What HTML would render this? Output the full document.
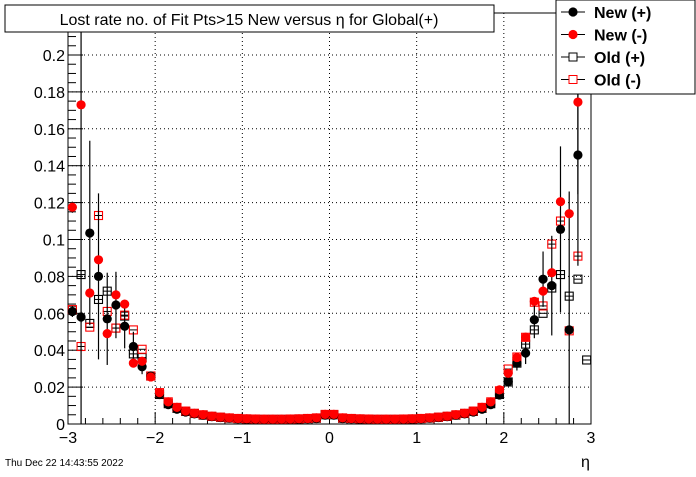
<!DOCTYPE html>
<html><head><meta charset="utf-8"><style>
body{margin:0;background:#fff;font-family:"Liberation Sans",sans-serif;}
svg text{font-family:"Liberation Sans",sans-serif;}
</style></head><body>
<svg id="c" width="696" height="472" viewBox="0 0 696 472" xmlns="http://www.w3.org/2000/svg">
<rect width="696" height="472" fill="#fff"/>
<g id="grid"></g>
<g id="axes"></g>
<g id="marks"></g>
<rect x="5" y="5" width="489" height="27" fill="#fff" stroke="#000"/>
<text x="249" y="25" font-size="16" text-anchor="middle">Lost rate no. of Fit Pts&gt;15 New versus  η for Global(+)</text>
<text x="5" y="466" font-size="10">Thu Dec 22 14:43:55 2022</text>
<text x="581" y="467" font-size="16">η</text>
<g id="legend"></g>
</svg>
<script>
const binCenters=[-2.95,-2.85,-2.75,-2.65,-2.55,-2.45,-2.35,-2.25,-2.15,-2.05,-1.95,-1.85,-1.75,-1.65,-1.55,-1.45,-1.35,-1.25,-1.15,-1.05,-0.95,-0.85,-0.75,-0.65,-0.55,-0.45,-0.35,-0.25,-0.15,-0.05,0.05,0.15,0.25,0.35,0.45,0.55,0.65,0.75,0.85,0.95,1.05,1.15,1.25,1.35,1.45,1.55,1.65,1.75,1.85,1.95,2.05,2.15,2.25,2.35,2.45,2.55,2.65,2.75,2.85,2.95];
const newPos=[0.061,0.058,0.1035,0.080,0.057,0.0645,0.053,0.042,0.031,0.026,0.016,0.0105,0.008,0.0065,0.0055,0.0047,0.004,0.0035,0.0031,0.0028,0.0026,0.0025,0.0024,0.0024,0.0024,0.0025,0.0026,0.0028,0.003,0.0048,0.0048,0.003,0.0028,0.0026,0.0025,0.0024,0.0024,0.0024,0.0025,0.0026,0.0028,0.0031,0.0035,0.004,0.0047,0.0055,0.0065,0.008,0.0105,0.0157,0.023,0.033,0.0385,0.0565,0.0785,0.075,0.1055,0.051,0.1458,null];
const newNeg=[0.1175,0.173,0.071,0.089,0.049,0.070,0.065,0.033,0.034,0.0255,0.017,0.012,0.009,0.007,0.0058,0.005,0.0042,0.0037,0.0033,0.003,0.0028,0.0027,0.0026,0.0026,0.0026,0.0027,0.0028,0.003,0.0033,0.0052,0.0052,0.0033,0.003,0.0028,0.0027,0.0026,0.0026,0.0026,0.0027,0.0028,0.003,0.0033,0.0037,0.0042,0.005,0.0058,0.007,0.009,0.012,0.0185,0.0275,0.036,0.047,0.0665,0.072,0.082,0.1205,0.114,0.1745,null];
const oldPos=[0.0617,0.081,0.0545,0.0675,0.072,0.052,0.0585,0.038,0.036,0.026,0.016,0.011,0.0085,0.0068,0.0057,0.0048,0.0041,0.0036,0.0032,0.0029,0.0027,0.0026,0.0025,0.0025,0.0025,0.0026,0.0027,0.0029,0.0031,0.005,0.005,0.0031,0.0029,0.0027,0.0026,0.0025,0.0025,0.0025,0.0026,0.0027,0.0029,0.0032,0.0036,0.0041,0.0048,0.0057,0.0068,0.0085,0.011,0.016,0.0228,0.033,0.0433,0.051,0.060,0.0737,0.081,0.0693,0.0785,0.0347];
const oldNeg=[0.062,0.042,0.0525,0.113,0.061,0.052,0.059,0.051,0.0405,0.026,0.017,0.012,0.009,0.007,0.0058,0.005,0.0042,0.0037,0.0033,0.003,0.0028,0.0027,0.0026,0.0026,0.0026,0.0027,0.0028,0.003,0.0033,0.0052,0.0052,0.0033,0.003,0.0028,0.0027,0.0026,0.0026,0.0026,0.0027,0.0028,0.003,0.0033,0.0037,0.0042,0.005,0.0058,0.007,0.009,0.012,0.018,0.0298,0.0363,0.047,0.066,0.064,0.0975,0.110,0.0505,0.091,null];
const newPosErr=[0.003,0.003,0.05,0.045,0.025,0.018,0.012,0.008,0.004,0.002,0,0,0,0,0,0,0,0,0,0,0,0,0,0,0,0,0,0,0,0,0,0,0,0,0,0,0,0,0,0,0,0,0,0,0,0,0,0,0,0,0.002,0.004,0.006,0.01,0.015,0.027,0.045,0.075,0.06,0];
const newNegErr=[0.003,0.2,0,0,0,0,0,0,0,0,0,0,0,0,0,0,0,0,0,0,0,0,0,0,0,0,0,0,0,0,0,0,0,0,0,0,0,0,0,0,0,0,0,0,0,0,0,0,0,0,0,0,0,0,0,0,0,0,0.05,0];
const yTicks=[0,0.02,0.04,0.06,0.08,0.1,0.12,0.14,0.16,0.18,0.2];
const yTickLabels=["0","0.02","0.04","0.06","0.08","0.1","0.12","0.14","0.16","0.18","0.2"];
const xTicks=[-3,-2,-1,0,1,2,3];
const xTickLabels=["−3","−2","−1","0","1","2","3"];

const X0=68,X1=591,YB=424,YT=13,XMIN=-3,XMAX=3,YMAX=(424-13)/1845;
const sx=v=>X0+(v-XMIN)/(XMAX-XMIN)*(X1-X0);
const sy=v=>YB-v/YMAX*(YB-YT);
const NS="http://www.w3.org/2000/svg";
function mk(tag,attrs,parent){const e=document.createElementNS(NS,tag);for(const k in attrs)e.setAttribute(k,attrs[k]);parent.appendChild(e);return e;}
const grid=document.getElementById('grid'),axes=document.getElementById('axes'),marks=document.getElementById('marks'),legend=document.getElementById('legend');
mk('rect',{x:X0,y:YT,width:X1-X0,height:YB-YT,fill:'none',stroke:'#000'},axes);
yTicks.forEach((t,i)=>{const y=sy(t);
 if(t>0){const g=mk('line',{x1:X0,x2:X1,y1:y,y2:y,stroke:'#000','stroke-dasharray':'1,3'},grid);}
 mk('line',{x1:X0,x2:X0+15,y1:y,y2:y,stroke:'#000'},axes);
 const l=mk('text',{x:X0-3,y:y+6,'font-size':16,'text-anchor':'end'},axes);l.textContent=yTickLabels[i];
 
 
 if(i<yTicks.length-1){for(let k=1;k<4;k++){const yy=sy(t+0.005*k);mk('line',{x1:X0,x2:X0+8,y1:yy,y2:yy,stroke:'#000'},axes);}}
});
for(let k=1;k<=1;k++){const yy=sy(0.205);mk('line',{x1:X0,x2:X0+8,y1:yy,y2:yy,stroke:'#000'},axes);}
for(let k=0;k<5;k++){const yy=sy(0.21+0.005*k);if(yy>YT)mk('line',{x1:X0,x2:X0+8,y1:yy,y2:yy,stroke:'#000'},axes);}
xTicks.forEach((t,i)=>{const x=sx(t);
 if(t>XMIN&&t<XMAX){const g=mk('line',{x1:x,x2:x,y1:YT,y2:YB,stroke:'#000','stroke-dasharray':'1,3'},grid);}
 mk('line',{x1:x,x2:x,y1:YB,y2:YB-12,stroke:'#000'},axes);
 const l=mk('text',{x:x,y:YB+19,'font-size':16,'text-anchor':'middle'},axes);l.textContent=xTickLabels[i];
 
 
 if(i<xTicks.length-1)for(let k=1;k<5;k++){const xx=sx(t+0.2*k);mk('line',{x1:xx,x2:xx,y1:YB,y2:YB-6,stroke:'#000'},axes);}
});
function series(vals,errs,kind,color,name){
 const g=mk('g',{},marks);
 
 
 vals.forEach((v,i)=>{if(v==null)return;const x=sx(binCenters[i]),y=sy(v);
  const e=errs?errs[i]:0;
  if(e>0)mk('line',{x1:x,x2:x,y1:Math.max(YT,sy(v+e)),y2:Math.min(YB,sy(Math.max(0,v-e))),stroke:'#000','stroke-width':1.2},g);
  mk('line',{x1:x-4.4,x2:x+4.4,y1:y,y2:y,stroke:'#000'},g);
  let m;
  if(kind==='c')m=mk('circle',{cx:x,cy:y,r:4.6,fill:color},g);
  else m=mk('rect',{x:x-4,y:y-4,width:8,height:8,fill:'none',stroke:color,'stroke-width':1.1},g);
  
  
 });
}
series(oldPos,null,'s','#000','series-old-pos');
series(oldNeg,null,'s','#f00','series-old-neg');
series(newPos,newPosErr,'c','#000','series-new-pos');
series(newNeg,newNegErr,'c','#f00','series-new-neg');
// legend
mk('rect',{x:556,y:0,width:139,height:94,fill:'#fff',stroke:'#000'},legend);
const legItems=[["New (+)","c","#000"],["New (-)","c","#f00"],["Old (+)","s","#000"],["Old (-)","s","#f00"]];
legItems.forEach((it,i)=>{const y=12+i*22.5;
 const g=mk('g',{},legend);
 
 
 mk('line',{x1:561,x2:585,y1:y,y2:y,stroke:'#000'},g);
 if(it[1]==='c')mk('circle',{cx:573,cy:y,r:4.6,fill:it[2]},g);
 else mk('rect',{x:569,y:y-4,width:8,height:8,fill:'#fff',stroke:it[2]},g);
 const t=mk('text',{x:594,y:y+6,'font-size':16,'font-weight':'bold'},g);t.textContent=it[0];
});
</script>
</body></html>
